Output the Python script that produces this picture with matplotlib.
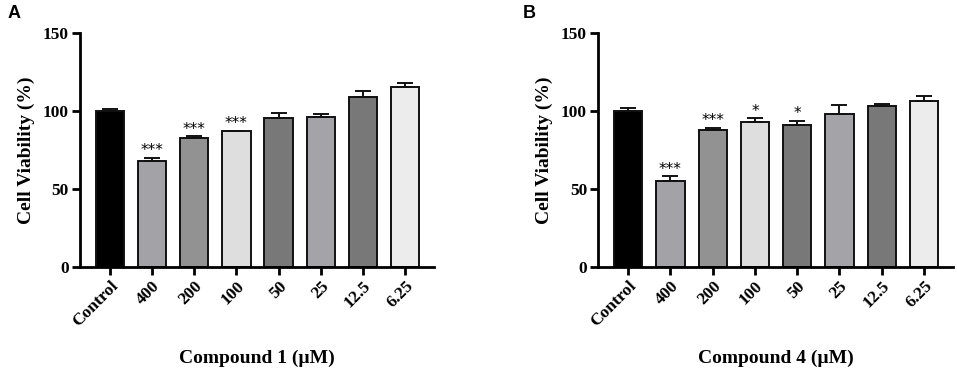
import matplotlib
matplotlib.use("Agg")
import matplotlib.pyplot as plt

# ---------------------------------------------------------------------------
# Data
# ---------------------------------------------------------------------------

categories = ["Control", "400", "200", "100", "50", "25", "12.5", "6.25"]

viability_c1 = [100, 68, 82.5, 87, 95.5, 96, 109, 115.5]
err_c1 = [1.3, 2.2, 1.5, 0.5, 3.5, 2.0, 4.0, 2.8]
stars_c1 = ["", "***", "***", "***", "", "", "", ""]

viability_c4 = [100, 55.5, 88, 92.8, 91, 98, 103, 106.8]
err_c4 = [1.8, 3.0, 1.4, 2.8, 3.0, 6.0, 1.5, 2.6]
stars_c4 = ["", "***", "***", "*", "*", "", "", ""]

bar_colors = ["#000000", "#a3a3a7", "#929292", "#dedede",
              "#787878", "#a4a4a8", "#787878", "#ececec"]

SERIF = "Liberation Serif"


def draw_panel(ax, values, errs, stars, xlabel):
    x = range(len(categories))
    ax.bar(x, values, width=0.67, color=bar_colors, edgecolor="#111111",
           linewidth=1.4, zorder=2)
    # upper-only error bars
    ax.errorbar(x, values, yerr=[[0] * len(errs), errs], fmt="none",
                ecolor="#111111", elinewidth=1.4, capsize=6, capthick=1.4,
                zorder=3)
    for i, (v, e, s) in enumerate(zip(values, errs, stars)):
        if s:
            ax.text(i, v + e - 0.5, s, ha="center", va="bottom",
                    fontsize=11, family="DejaVu Sans")

    ax.set_xlim(-0.71, 7.69)
    ax.set_ylim(0, 150)
    ax.set_yticks([0, 50, 100, 150])
    ax.set_xticks(list(x))
    ax.set_xticklabels(categories, rotation=45, ha="right",
                       rotation_mode="anchor", family=SERIF,
                       fontweight="bold", fontsize=12.5)
    for lbl in ax.get_yticklabels():
        lbl.set_family(SERIF)
        lbl.set_fontweight("bold")
        lbl.set_fontsize(12.5)
    ax.tick_params(axis="both", width=2, length=6, direction="out", pad=2)
    ax.spines["top"].set_visible(False)
    ax.spines["right"].set_visible(False)
    ax.spines["left"].set_linewidth(2)
    ax.spines["bottom"].set_linewidth(2)
    ax.set_ylabel("Cell Viability (%)", family=SERIF, fontweight="bold",
                  fontsize=14, labelpad=6)
    ax.set_xlabel(xlabel, family=SERIF, fontweight="bold", fontsize=14,
                  labelpad=14)


fig = plt.figure(figsize=(9.57, 3.73), dpi=100)
ax_a = fig.add_axes([0.0836, 0.284, 0.370, 0.627])
ax_b = fig.add_axes([0.625, 0.284, 0.371, 0.627])

draw_panel(ax_a, viability_c1, err_c1, stars_c1, "Compound 1 (\u00b5M)")
draw_panel(ax_b, viability_c4, err_c4, stars_c4, "Compound 4 (\u00b5M)")

fig.text(0.008, 0.965, "A", family="Liberation Sans", fontweight="bold",
         fontsize=13, va="center")
fig.text(0.546, 0.965, "B", family="Liberation Sans", fontweight="bold",
         fontsize=13, va="center")

fig.savefig("out.png", dpi=100)
